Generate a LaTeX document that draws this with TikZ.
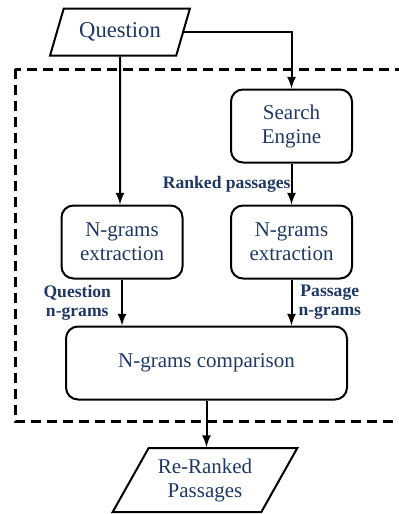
\documentclass[tikz,border=0pt]{standalone}
\usepackage{fontspec}
\setmainfont{Liberation Serif}
\usepackage{xcolor}
\usepackage{tikz}
\usetikzlibrary{shapes,arrows}
\definecolor{textblue}{RGB}{31,56,100}
\tikzstyle{block} = [rectangle, draw, line width=1pt, text=textblue, align=center,
    minimum width=60.5pt, minimum height=36.5pt, rounded corners=6pt,
    font=\fontsize{10.5}{12}\selectfont]
\tikzstyle{wideblock} = [block, minimum width=140.5pt]
\tikzstyle{io} = [trapezium, trapezium stretches=true, draw, line width=1pt,
    text=textblue, align=center, inner sep=0pt, font=\fontsize{10.5}{12}\selectfont]
\tikzstyle{arrow} = [draw, -latex, line width=1pt]
\tikzstyle{lbl} = [text=textblue, align=center, inner sep=0pt,
    font=\bfseries\fontsize{8.8}{9.5}\selectfont]
\tikzstyle{dashbox} = [draw, line width=1.5pt, dash pattern=on 5pt off 3pt]

\begin{document}
\begin{tikzpicture}[auto, thick]
	\useasboundingbox (0,0) rectangle (199pt,-257pt);
	% Place nodes
	\node [io, trapezium left angle=62, trapezium right angle=118, minimum width=70pt, minimum height=23.5pt, font=\fontsize{11.3}{12}\selectfont] (question) at (60pt,-16pt) {Question};
	\node [block, below of=question, node distance=47pt, xshift=85.75pt] (searchEngine) {Search\\Engine};
	\node [block, below of=searchEngine, node distance=58pt] (passageExtraction) {N-grams\\extraction};
	\node [block, left of=passageExtraction, node distance=84.75pt] (questionExtraction) {N-grams\\extraction};
	\node [wideblock, below of=questionExtraction, node distance=60.5pt, xshift=42.25pt] (comparison) {N-grams comparison};
	\node [io, below of=comparison, node distance=58.5pt, xshift=-0.75pt, trapezium left angle=55, trapezium right angle=125, minimum width=92.5pt, minimum height=32pt] (reRanked) {Re-Ranked\\Passages};
	% Dashed frame
	\path [dashbox] (7.5pt,-34.5pt) rectangle (205pt,-210.5pt);
	% Connectors
	\path [arrow] (question) -- (question |- questionExtraction.north);
	\path [arrow] (question.east) -| (searchEngine.north);
	\path [arrow] (searchEngine) -- node[lbl, left] {Ranked passages} (passageExtraction);
	\path [arrow] (questionExtraction) -- node[lbl, left=5pt] {Question\\n-grams} (questionExtraction |- comparison.north);
	\path [arrow] (passageExtraction) -- node[lbl, right=3pt] {Passage\\n-grams} (passageExtraction |- comparison.north);
	\path [arrow] (comparison) -- (comparison |- reRanked.north);
\end{tikzpicture}
\end{document}
